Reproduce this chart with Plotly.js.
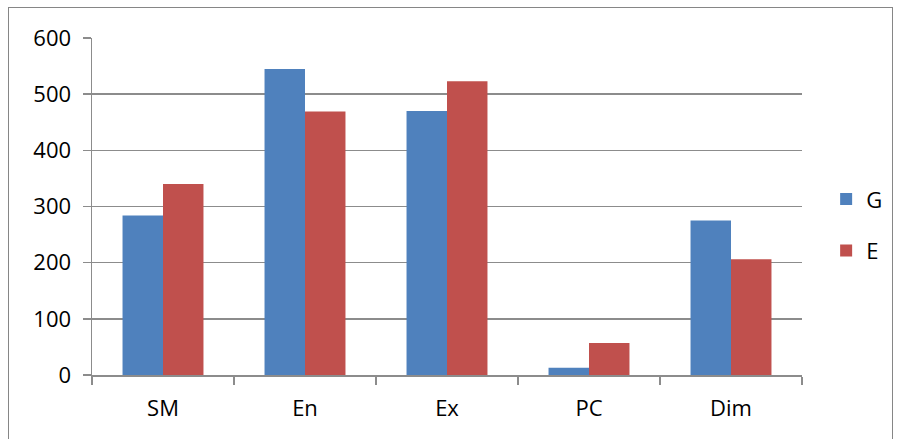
<!DOCTYPE html>
<html>
<head>
<meta charset="utf-8">
<script src="https://cdn.plot.ly/plotly-3.0.1.min.js"></script>
<style>
  html, body { margin: 0; padding: 0; background: #fff; }
  #wrap { position: relative; width: 897px; height: 439px; overflow: hidden; }
  #chart { width: 897px; height: 439px; }
  #frame { position: absolute; left: 8px; top: 7px; width: 885px; height: 445px;
           border: 1px solid #868686; pointer-events: none; box-sizing: border-box; }
</style>
</head>
<body>
<div id="wrap">
  <div id="chart"></div>
  <div id="frame"></div>
</div>
<script>
// Categories and series values
const categories = ["SM", "En", "Ex", "PC", "Dim"];
const seriesG = [284, 545, 470, 13, 275];
const seriesE = [340, 469, 523, 57, 206];
const yTicks = [0, 100, 200, 300, 400, 500, 600];

const FONT = "Open Sans, Liberation Sans, sans-serif";
const gridColor = "#8c8c8c";

const traces = [
  { type: "bar", name: "G", x: categories, y: seriesG,
    marker: { color: "#4F81BD", line: { width: 0 } }, legendgroup: "g" },
  { type: "bar", name: "E", x: categories, y: seriesE,
    marker: { color: "#C0504D", line: { width: 0 } }, legendgroup: "e" }
];

const layout = {
  width: 897, height: 439,
  margin: { l: 92, r: 95, t: 38, b: 64, pad: 0 },
  paper_bgcolor: "#ffffff", plot_bgcolor: "#ffffff",
  barmode: "group", bargap: 0.43, bargroupgap: 0,
  font: { family: FONT, size: 22, color: "#000" },
  xaxis: {
    type: "category",
    showgrid: false, showline: true, linecolor: gridColor, linewidth: 1.5,
    ticks: "outside", tickson: "boundaries", ticklen: 8, tickcolor: gridColor, tickwidth: 1.5,
    tickfont: { family: FONT, size: 22, color: "#000" },
    ticklabelstandoff: 13
  },
  yaxis: {
    range: [0, 600], tickvals: yTicks, ticktext: yTicks.map(String),
    showgrid: true, gridcolor: gridColor, gridwidth: 1.5,
    showline: true, linecolor: gridColor, linewidth: 1.5,
    ticks: "outside", ticklen: 8, tickcolor: gridColor, tickwidth: 1.5,
    tickfont: { family: FONT, size: 22, color: "#000" },
    ticklabelstandoff: 7, zeroline: false
  },
  showlegend: true,
  legend: {
    xref: "container", yref: "container",
    x: 0.921, y: 0.487, xanchor: "left", yanchor: "middle",
    font: { family: FONT, size: 22, color: "#000" },
    tracegroupgap: 20, bgcolor: "rgba(0,0,0,0)", itemwidth: 30
  }
};

Plotly.newPlot("chart", traces, layout, { displayModeBar: false, staticPlot: true });
</script>
</body>
</html>
